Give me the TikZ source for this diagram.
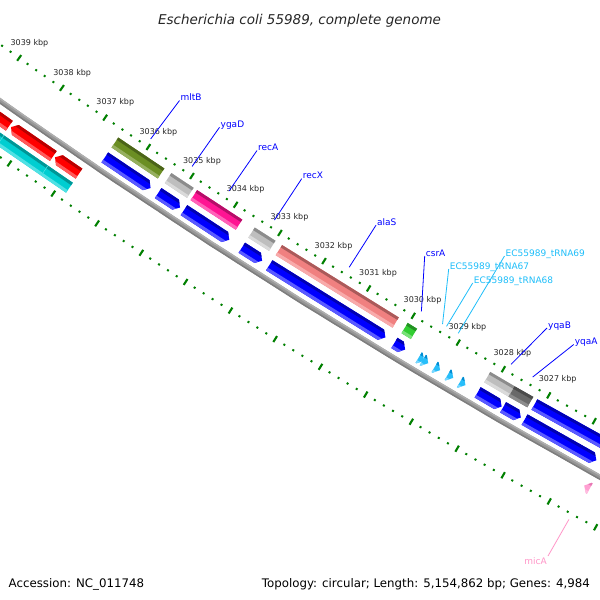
\documentclass[tikz,border=0pt]{standalone}
\usepackage{fontspec}
\setmainfont{DejaVu Sans}
\usetikzlibrary{calc}
\definecolor{cblue}{RGB}{0,0,255}\definecolor{cblueD}{RGB}{0,0,178}\definecolor{cblueL}{RGB}{90,90,255}
\definecolor{colive}{RGB}{107,142,35}\definecolor{coliveD}{RGB}{75,100,25}\definecolor{coliveL}{RGB}{150,175,95}
\definecolor{cgray}{RGB}{190,190,190}\definecolor{cgrayD}{RGB}{140,140,140}\definecolor{cgrayL}{RGB}{218,218,218}
\definecolor{cpink}{RGB}{255,20,147}\definecolor{cpinkD}{RGB}{180,14,104}\definecolor{cpinkL}{RGB}{255,100,185}
\definecolor{csalm}{RGB}{240,128,128}\definecolor{csalmD}{RGB}{170,90,90}\definecolor{csalmL}{RGB}{248,170,170}
\definecolor{cgreen}{RGB}{50,205,50}\definecolor{cgreenD}{RGB}{35,145,35}\definecolor{cgreenL}{RGB}{120,225,120}
\definecolor{cdgray}{RGB}{105,105,105}\definecolor{cdgrayD}{RGB}{75,75,75}\definecolor{cdgrayL}{RGB}{140,140,140}
\definecolor{cred}{RGB}{255,0,0}\definecolor{credD}{RGB}{185,0,0}\definecolor{credL}{RGB}{255,90,90}
\definecolor{ccyan}{RGB}{0,206,209}\definecolor{ccyanD}{RGB}{0,150,150}\definecolor{ccyanL}{RGB}{80,225,228}
\definecolor{ctrna}{RGB}{40,190,250}\definecolor{ctrnaD}{RGB}{0,140,210}\definecolor{ctrnaL}{RGB}{120,215,255}
\definecolor{cmica}{RGB}{255,160,210}\definecolor{cmicaD}{RGB}{230,120,180}\definecolor{cmicaL}{RGB}{255,190,225}
\definecolor{tickgreen}{RGB}{0,128,0}
\definecolor{labblue}{RGB}{0,0,255}
\definecolor{labtrna}{RGB}{30,190,250}
\definecolor{labpink}{RGB}{255,150,200}
\definecolor{bbmid}{RGB}{150,150,150}\definecolor{bblight}{RGB}{175,175,175}\definecolor{bbdark}{RGB}{125,125,125}
\newcommand\PP[2]{({gx(#1,#2)},{gy(#1,#2)})}
\newcommand\shadeband[3]{%
  \fill[#3] \PP{#1}{\fra-1} -- \PP{#2}{\fra-1} -- \PP{#2}{\fra+13} -- \PP{#1}{\fra+13} -- cycle;
  \fill[#3D] \PP{#1}{\fra-1} -- \PP{#2}{\fra-1} -- \PP{#2}{\fra+3} -- \PP{#1}{\fra+3} -- cycle;
  \fill[#3L] \PP{#1}{\fra+9} -- \PP{#2}{\fra+9} -- \PP{#2}{\fra+13} -- \PP{#1}{\fra+13} -- cycle;}
\newcommand\fbar[4]{\def\fra{#3}\begin{scope}
  \clip \PP{#1}{#3} -- \PP{#2}{#3} -- \PP{#2}{#3+12} -- \PP{#1}{#3+12} -- cycle;
  \shadeband{#1+0.3}{#2-0.3}{#4}\end{scope}}
\newcommand\farR[4]{\def\fra{#3}\pgfmathsetmacro\hh{min(0.1,#1-#2)}\begin{scope}
  \clip \PP{#1}{#3} -- \PP{#2+\hh}{#3} -- \PP{#2}{#3+6} -- \PP{#2+\hh}{#3+12} -- \PP{#1}{#3+12} -- cycle;
  \shadeband{#1+0.3}{#2-0.3}{#4}\end{scope}}
\newcommand\farL[4]{\def\fra{#3}\pgfmathsetmacro\hh{min(0.1,#1-#2)}\begin{scope}
  \clip \PP{#1}{#3+6} -- \PP{#1-\hh}{#3} -- \PP{#2}{#3} -- \PP{#2}{#3+12} -- \PP{#1-\hh}{#3+12} -- cycle;
  \shadeband{#1+0.3}{#2-0.3}{#4}\end{scope}}
\newcommand\labstart[3]{\coordinate (#1) at ({gx(#2,#3)},{gy(#2,#3)});}
\begin{document}
\begin{tikzpicture}[x=1pt,y=-1pt,
  declare function={th(\kk)=122.5+(\kk-3033)*0.458;
    gx(\kk,\rr)=3799+\rr*cos(th(\kk)); gy(\kk,\rr)=-5291+\rr*sin(th(\kk));},
  tickM/.style={draw=tickgreen,line width=2.1pt},
  tickm/.style={draw=tickgreen,line width=2pt},
  ticklab/.style={font=\fontsize{8}{9}\selectfont,text=black!85,inner sep=0pt},
  flab/.style={font=\fontsize{9}{10}\selectfont,inner sep=1pt,anchor=base west},
  fline/.style={line width=0.8pt}]
\useasboundingbox (0,0) rectangle (600,600);
\fill[white] (0,0) rectangle (600,600);
\begin{scope}
\clip (0,0) rectangle (600,600);
% backbone
\draw[bbmid,line width=5pt] plot[domain=3023:3041,samples=60] ({gx(\x,6596)},{gy(\x,6596)});
\draw[bblight,line width=1.4pt] plot[domain=3023:3041,samples=60] ({gx(\x,6594.2)},{gy(\x,6594.2)});
\draw[bbdark,line width=1.4pt] plot[domain=3023:3041,samples=60] ({gx(\x,6597.8)},{gy(\x,6597.8)});
% ticks
\foreach \i in {0,...,90}{
  \pgfmathsetmacro\kv{3023+\i*0.2}
  \pgfmathtruncatemacro\mm{mod(\i,5)}
  \ifnum\mm=0
    \draw[tickM] \PP{\kv}{6546.5} -- \PP{\kv}{6553.5};
    \draw[tickM] \PP{\kv}{6638.5} -- \PP{\kv}{6645.5};
  \else
    \draw[tickm] \PP{\kv}{6549} -- \PP{\kv}{6551};
    \draw[tickm] \PP{\kv}{6641} -- \PP{\kv}{6643};
  \fi
}
\foreach \n in {3027,...,3039}{
  \node[ticklab] (t\n) at ({gx(\n,6532)},{gy(\n,6532)}) {\n\ kbp};
}
% inner row 2 (COG colours)
\fbar{3036.58}{3035.52}{6559}{colive}
\fbar{3035.36}{3034.85}{6559}{cgray}
\fbar{3034.77}{3033.74}{6559}{cpink}
\fbar{3033.46}{3032.99}{6559}{cgray}
\fbar{3032.84}{3030.22}{6559}{csalm}
\fbar{3030.02}{3029.81}{6559}{cgreen}
\fbar{3028.19}{3027.65}{6559}{cgray}
\fbar{3027.65}{3027.24}{6559}{cdgray}
\fbar{3027.15}{3024.0}{6559}{cblue}
% inner row 1 (reverse strand)
\farR{3036.58}{3035.53}{6577}{cblue}
\farR{3035.36}{3034.86}{6577}{cblue}
\farR{3034.77}{3033.74}{6577}{cblue}
\farR{3033.46}{3033.00}{6577}{cblue}
\farR{3032.84}{3030.24}{6577}{cblue}
\farR{3030.04}{3029.80}{6577}{cblue}
\farR{3029.50}{3029.38}{6577}{ctrna}
\farR{3029.41}{3029.29}{6577}{ctrna}
\farR{3029.15}{3029.03}{6577}{ctrna}
\farR{3028.86}{3028.74}{6577}{ctrna}
\farR{3028.59}{3028.47}{6577}{ctrna}
\farR{3028.20}{3027.67}{6577}{cblue}
\farR{3027.64}{3027.25}{6577}{cblue}
\farR{3027.17}{3025.60}{6577}{cblue}
% outer row 1 (forward strand)
\fbar{3039.8}{3038.41}{6605}{cred}
\farL{3038.37}{3037.40}{6605}{cred}
\farL{3037.36}{3036.81}{6605}{cred}
\farL{3025.57}{3025.45}{6605}{cmica}
% outer row 2
\fbar{3039.8}{3038.39}{6622}{ccyan}
\fbar{3038.39}{3037.38}{6622}{ccyan}
\fbar{3037.38}{3036.81}{6622}{ccyan}
\draw[ccyanL,line width=0.5pt] \PP{3038.39}{6622} -- \PP{3038.39}{6634};
\draw[ccyanL,line width=0.5pt] \PP{3037.38}{6622} -- \PP{3037.38}{6634};
% feature labels
\labstart{smltB}{3036.05}{6542}
\labstart{sygaD}{3035.10}{6542}
\labstart{srecA}{3034.25}{6542}
\labstart{srecX}{3033.22}{6542}
\labstart{salaS}{3031.53}{6542}
\labstart{scsrA}{3029.91}{6542}
\labstart{st67}{3029.44}{6542}
\labstart{st68}{3029.35}{6542}
\labstart{st69}{3029.09}{6542}
\labstart{syqaB}{3027.92}{6542}
\labstart{syqaA}{3027.44}{6542}
\labstart{smicA}{3025.51}{6648}
\node[flab,text=labblue] (lmltB) at (179.5,100.5) {mltB};
\node[flab,text=labblue] (lygaD) at (219.5,127.3) {ygaD};
\node[flab,text=labblue] (lrecA) at (257,150.5) {recA};
\node[flab,text=labblue] (lrecX) at (301.7,178.7) {recX};
\node[flab,text=labblue] (lalaS) at (376,225.2) {alaS};
\node[flab,text=labblue] (lcsrA) at (424.7,256) {csrA};
\node[flab,text=labtrna] (lt67) at (448.7,269) {EC55989\_tRNA67};
\node[flab,text=labtrna] (lt68) at (472.7,283) {EC55989\_tRNA68};
\node[flab,text=labtrna] (lt69) at (504.5,256) {EC55989\_tRNA69};
\node[flab,text=labblue] (lyqaB) at (547,328) {yqaB};
\node[flab,text=labblue] (lyqaA) at (573.7,344.5) {yqaA};
\node[flab,text=labpink,anchor=north east] (lmicA) at (548,556) {micA};
\draw[fline,labblue] (smltB) -- (lmltB.base west);
\draw[fline,labblue] (sygaD) -- (lygaD.base west);
\draw[fline,labblue] (srecA) -- (lrecA.base west);
\draw[fline,labblue] (srecX) -- (lrecX.base west);
\draw[fline,labblue] (salaS) -- (lalaS.base west);
\draw[fline,labblue] (scsrA) -- (lcsrA.base west);
\draw[fline,labtrna] (st67) -- (lt67.base west);
\draw[fline,labtrna] (st68) -- (lt68.base west);
\draw[fline,labtrna] (st69) -- (lt69.base west);
\draw[fline,labblue] (syqaB) -- (lyqaB.base west);
\draw[fline,labblue] (syqaA) -- (lyqaA.base west);
\draw[fline,labpink] (smicA) -- (lmicA.north east);
\end{scope}
% title and footer
\node[anchor=base,inner sep=0pt,font=\fontsize{13.5}{16}\selectfont\itshape,text=black!85] (title) at (299.5,24) {Escherichia coli 55989, complete genome};
\node[anchor=base west,inner sep=0pt,font=\fontsize{11.8}{14}\selectfont] (acc) at (8.5,587) {Accession: NC\_011748};
\node[anchor=base east,inner sep=0pt,font=\fontsize{11.8}{14}\selectfont] (topo) at (590,587) {Topology: circular; Length: 5,154,862 bp; Genes: 4,984};
\end{tikzpicture}
\end{document}
